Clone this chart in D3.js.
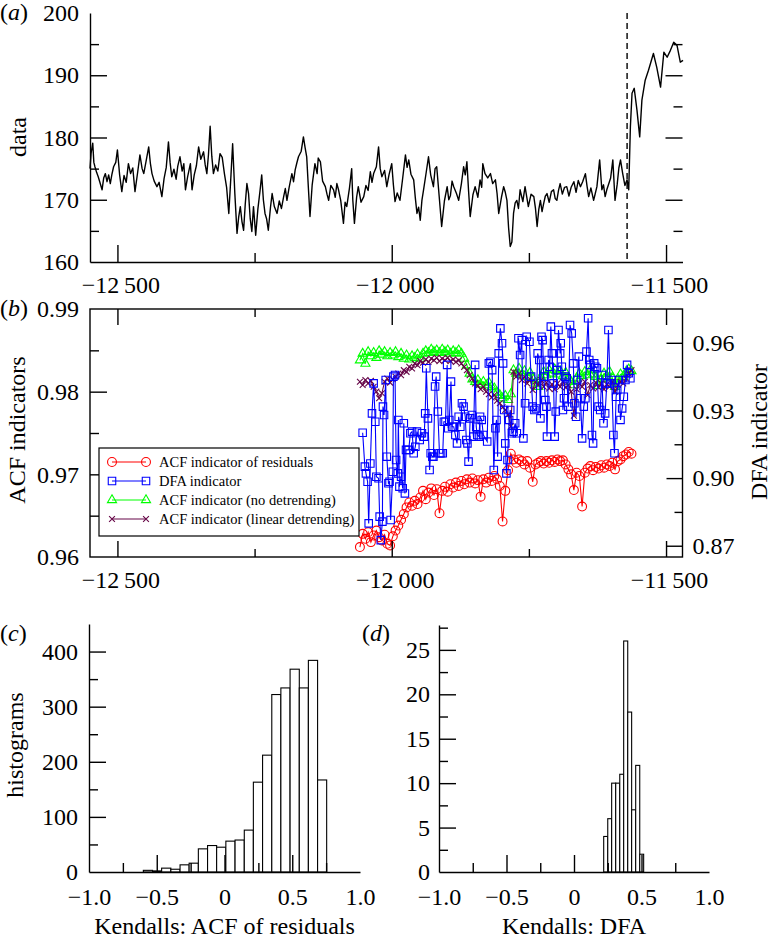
<!DOCTYPE html>
<html><head><meta charset="utf-8">
<script src="https://cdn.jsdelivr.net/npm/d3@7"></script>
<style>
body{margin:0;background:#fff;}
svg text{font-family:"Liberation Serif","Times New Roman",serif;fill:#000;}
</style></head><body>
<svg id="chart" width="772" height="939"></svg>
<script>
// ---------------- DATA ----------------
// panel (a): time series
const aYears = [-12550,-12548,-12545,-12543,-12541,-12538,-12535,-12532,-12528,-12525,-12522,-12519,-12516,-12513,-12510,-12507,-12503,-12500,-12496,-12492,-12488,-12484,-12480,-12476,-12472,-12468,-12463,-12459,-12455,-12452,-12448,-12443,-12440,-12437,-12433,-12428,-12424,-12419,-12415,-12411,-12407,-12404,-12401,-12397,-12393,-12390,-12386,-12382,-12379,-12376,-12372,-12367,-12364,-12360,-12356,-12352,-12348,-12343,-12340,-12337,-12334,-12331,-12328,-12325,-12321,-12317,-12313,-12309,-12305,-12301,-12297,-12293,-12290,-12286,-12282,-12279,-12276,-12273,-12270,-12267,-12264,-12261,-12258,-12255,-12252,-12248,-12244,-12240,-12237,-12234,-12231,-12228,-12225,-12221,-12218,-12214,-12209,-12205,-12201,-12197,-12194,-12191,-12187,-12182,-12179,-12176,-12173,-12170,-12165,-12161,-12158,-12155,-12152,-12149,-12145,-12140,-12136,-12134,-12130,-12126,-12121,-12118,-12115,-12111,-12106,-12103,-12100,-12097,-12093,-12088,-12085,-12082,-12077,-12073,-12071,-12068,-12064,-12061,-12056,-12051,-12047,-12043,-12039,-12036,-12033,-12028,-12024,-12021,-12018,-12013,-12009,-12005,-12000,-11997,-11994,-11990,-11985,-11980,-11975,-11972,-11969,-11965,-11960,-11957,-11954,-11951,-11948,-11945,-11942,-11937,-11933,-11929,-11924,-11921,-11918,-11913,-11909,-11904,-11899,-11896,-11893,-11890,-11887,-11882,-11878,-11873,-11869,-11866,-11863,-11860,-11857,-11852,-11848,-11843,-11839,-11836,-11834,-11830,-11825,-11820,-11816,-11811,-11808,-11805,-11800,-11796,-11793,-11790,-11787,-11784,-11781,-11778,-11775,-11772,-11769,-11766,-11761,-11757,-11754,-11751,-11746,-11741,-11738,-11735,-11732,-11729,-11726,-11723,-11720,-11717,-11713,-11709,-11705,-11702,-11699,-11696,-11693,-11689,-11685,-11681,-11677,-11673,-11668,-11664,-11660,-11656,-11652,-11647,-11644,-11641,-11637,-11632,-11629,-11626,-11621,-11617,-11614,-11611,-11608,-11605,-11601,-11597,-11593,-11589,-11586,-11583,-11579,-11575,-11571,-11568,-11565,-11562,-11558,-11553,-11548,-11544,-11538,-11532,-11523,-11517,-11510,-11504,-11498,-11492,-11486,-11480,-11474,-11469];
const aValues = [175.0,177.5,179.1,176.0,175.3,174.4,173.7,172.8,171.6,173.5,174.2,172.9,174.0,172.6,174.1,175.3,176.0,178.0,174.0,171.3,173.9,172.8,175.8,174.2,175.1,171.3,174.5,177.2,175.0,174.2,176.1,178.5,175.9,174.2,173.0,172.1,172.8,170.5,173.4,175.2,179.3,176.0,173.7,174.9,173.3,175.4,176.9,174.6,175.8,171.6,173.7,175.8,171.6,174.0,175.5,178.5,176.5,177.7,175.6,174.2,177.3,181.8,177.0,174.2,175.6,174.6,177.4,176.8,174.2,172.0,167.8,174.0,179.0,171.0,164.6,167.2,168.9,166.5,165.1,169.3,172.6,171.0,167.0,164.9,168.9,164.3,168.5,171.5,174.0,170.0,167.8,166.9,165.1,168.8,171.0,168.9,167.8,169.8,168.6,170.5,171.8,169.9,172.0,174.2,172.9,174.8,175.9,176.9,177.8,180.1,178.4,176.9,172.0,167.3,172.4,175.8,174.2,176.7,176.1,173.0,172.1,170.9,169.9,172.3,171.6,170.4,172.6,171.6,169.9,166.2,169.6,168.9,171.9,175.0,170.0,166.2,170.4,172.1,169.6,170.5,172.3,171.5,174.5,172.8,174.2,175.3,178.5,175.0,173.7,174.7,172.1,174.0,175.8,172.4,169.7,171.1,169.9,173.5,177.2,175.2,176.4,174.1,173.2,170.3,167.8,168.8,166.7,169.9,171.6,174.5,176.9,174.0,172.1,175.0,175.3,170.0,165.7,169.8,172.1,170.0,170.7,173.0,172.1,171.0,169.9,172.6,175.3,174.0,176.1,171.5,167.3,170.8,172.1,170.4,173.2,172.0,175.8,174.2,173.5,174.2,172.6,173.2,171.0,167.8,170.4,172.1,171.2,169.9,165.5,162.5,163.2,167.8,169.5,169.9,168.6,171.6,169.7,172.1,170.5,168.9,170.9,170.5,168.6,165.7,168.4,169.9,168.1,169.4,170.6,171.0,169.6,171.3,171.6,170.2,169.9,171.5,172.6,170.9,172.0,172.1,170.6,172.0,172.9,171.2,173.1,172.1,172.9,174.2,172.2,170.5,171.9,169.9,171.0,172.1,176.4,171.6,172.4,170.5,171.6,172.4,173.5,176.4,169.9,172.5,175.1,176.4,174.2,172.3,173.2,171.6,181.7,187.1,187.9,184.4,180.1,186.0,189.2,190.8,193.5,191.3,188.1,193.7,192.9,194.0,195.3,194.8,192.1,192.4];
const aDashYear = -11571;

// panel (b): indicators
const dfaYears = [-12053,-12049,-12047,-12044,-12042,-12039,-12036,-12033,-12030,-12028,-12024,-12022,-12020,-12017,-12016,-12014,-12011,-12009,-12006,-12004,-12002,-11998,-11997,-11994,-11992,-11989,-11988,-11986,-11983,-11980,-11978,-11976,-11974,-11969,-11966,-11963,-11960,-11957,-11954,-11949,-11945,-11941,-11939,-11937,-11934,-11931,-11929,-11926,-11924,-11921,-11919,-11916,-11913,-11910,-11907,-11905,-11902,-11899,-11897,-11895,-11892,-11890,-11887,-11884,-11881,-11878,-11875,-11872,-11869,-11866,-11864,-11862,-11860,-11857,-11854,-11851,-11848,-11846,-11844,-11841,-11839,-11836,-11833,-11826,-11823,-11820,-11817,-11814,-11811,-11809,-11807,-11805,-11802,-11799,-11797,-11795,-11793,-11791,-11789,-11786,-11784,-11781,-11778,-11775,-11772,-11769,-11766,-11763,-11760,-11757,-11754,-11749,-11746,-11743,-11740,-11737,-11734,-11731,-11729,-11727,-11725,-11723,-11720,-11718,-11717,-11714,-11712,-11710,-11708,-11705,-11703,-11701,-11699,-11696,-11693,-11692,-11690,-11688,-11686,-11684,-11681,-11678,-11675,-11672,-11669,-11667,-11664,-11662,-11659,-11656,-11653,-11650,-11647,-11645,-11642,-11640,-11638,-11635,-11633,-11631,-11629,-11626,-11623,-11620,-11617,-11614,-11611,-11608,-11605,-11602,-11599,-11596,-11594,-11591,-11589,-11586,-11583,-11580,-11577,-11574,-11571,-11568,-11565];
const dfaValues = [0.9201,0.9051,0.9021,0.8984,0.8799,0.9065,0.9287,0.9420,0.9250,0.9006,0.8999,0.8829,0.8725,0.8807,0.9317,0.9280,0.9435,0.9095,0.8977,0.8984,0.8814,0.9028,0.9450,0.9457,0.9080,0.9021,0.9258,0.8962,0.9006,0.8955,0.9243,0.8932,0.9125,0.9125,0.9199,0.9206,0.9110,0.9139,0.9206,0.9169,0.9199,0.9184,0.9287,0.9487,0.9265,0.9036,0.9110,0.9095,0.9095,0.9406,0.9450,0.9295,0.9110,0.9110,0.9110,0.9250,0.9250,0.9502,0.9221,0.9258,0.9428,0.9228,0.9228,0.9191,0.9154,0.9272,0.9228,0.9332,0.9317,0.9272,0.9169,0.9154,0.9073,0.9265,0.9280,0.9184,0.9502,0.9228,0.9191,0.9184,0.9272,0.9258,0.9191,0.9162,0.9509,0.9516,0.9479,0.9036,0.9221,0.9258,0.9095,0.9553,0.9664,0.9598,0.9509,0.9302,0.9154,0.9021,0.9080,0.9258,0.9302,0.9199,0.9206,0.9243,0.9199,0.9620,0.9546,0.9612,0.9176,0.9332,0.9627,0.9605,0.9450,0.9317,0.9302,0.9309,0.9553,0.9524,0.9265,0.9627,0.9612,0.9450,0.9346,0.9317,0.9184,0.9524,0.9494,0.9672,0.9553,0.9420,0.9184,0.9295,0.9479,0.9657,0.9553,0.9598,0.9494,0.9302,0.9354,0.9450,0.9443,0.9317,0.9679,0.9642,0.9509,0.9332,0.9272,0.9435,0.9539,0.9354,0.9176,0.9317,0.9354,0.9561,0.9709,0.9524,0.9502,0.9191,0.9154,0.9509,0.9494,0.9487,0.9317,0.9302,0.9457,0.9243,0.9287,0.9420,0.9657,0.9420,0.9435,0.9191,0.9110,0.9361,0.9391,0.9435,0.9258,0.9309,0.9361,0.9435,0.9502,0.9465,0.9443];

const acfYears = [-12058,-12053,-12048,-12043,-12038,-12033,-12028,-12023,-12018,-12013,-12008,-12003,-11998,-11993,-11988,-11983,-11978,-11973,-11968,-11963,-11958,-11953,-11948,-11943,-11938,-11933,-11928,-11923,-11918,-11913,-11908,-11903,-11898,-11893,-11888,-11883,-11878,-11873,-11868,-11863,-11858,-11853,-11848,-11843,-11838,-11833,-11828,-11823,-11818,-11813,-11808,-11803,-11798,-11793,-11788,-11783,-11778,-11773,-11768,-11763,-11758,-11753,-11748,-11743,-11738,-11733,-11728,-11723,-11718,-11713,-11708,-11703,-11698,-11693,-11688,-11683,-11678,-11673,-11668,-11663,-11658,-11653,-11648,-11643,-11638,-11633,-11628,-11623,-11618,-11613,-11608,-11603,-11598,-11593,-11588,-11583,-11578,-11573,-11568,-11563];
const acfResiduals = [0.9612,0.9628,0.9622,0.9630,0.9618,0.9626,0.9632,0.9624,0.9620,0.9627,0.9616,0.9614,0.9625,0.9632,0.9638,0.9645,0.9652,0.9660,0.9666,0.9662,0.9668,0.9664,0.9672,0.9680,0.9670,0.9678,0.9683,0.9675,0.9682,0.9653,0.9680,0.9685,0.9679,0.9688,0.9684,0.9690,0.9686,0.9692,0.9688,0.9694,0.9690,0.9695,0.9689,0.9693,0.9673,0.9694,0.9690,0.9696,0.9692,0.9698,0.9694,0.9686,0.9643,0.9680,0.9705,0.9725,0.9718,0.9714,0.9718,0.9716,0.9712,0.9716,0.9708,0.9691,0.9712,0.9714,0.9716,0.9713,0.9716,0.9714,0.9717,0.9715,0.9718,0.9716,0.9717,0.9712,0.9706,0.9700,0.9681,0.9702,0.9698,0.9661,0.9702,0.9707,0.9710,0.9705,0.9709,0.9707,0.9711,0.9708,0.9712,0.9710,0.9714,0.9706,0.9716,0.9718,0.9722,0.9724,0.9727,0.9725];
const acfNoDetrend = [0.9838,0.9846,0.9834,0.9848,0.9843,0.9847,0.9841,0.9849,0.9845,0.9848,0.9843,0.9847,0.9844,0.9848,0.9842,0.9846,0.9840,0.9844,0.9839,0.9843,0.9841,0.9845,0.9840,0.9846,0.9849,0.9847,0.9851,0.9848,0.9850,0.9847,0.9851,0.9848,0.9850,0.9846,0.9849,0.9847,0.9850,0.9846,0.9840,0.9832,0.9822,0.9815,0.9812,0.9814,0.9809,0.9812,0.9808,0.9811,0.9806,0.9804,0.9799,0.9796,0.9792,0.9795,0.9790,0.9797,0.9826,0.9822,0.9828,0.9820,0.9825,0.9818,0.9823,0.9816,0.9810,0.9806,0.9818,0.9824,0.9820,0.9826,0.9822,0.9827,0.9821,0.9825,0.9819,0.9823,0.9817,0.9812,0.9808,0.9816,0.9822,0.9819,0.9824,0.9820,0.9826,0.9821,0.9818,0.9807,0.9815,0.9822,0.9819,0.9824,0.9817,0.9806,0.9815,0.9821,0.9818,0.9824,0.9827,0.9825];
const acfLinDetrend = [0.9812,0.9808,0.9814,0.9810,0.9813,0.9806,0.9800,0.9792,0.9798,0.9812,0.9816,0.9811,0.9815,0.9818,0.9822,0.9820,0.9826,0.9824,0.9830,0.9828,0.9834,0.9832,0.9837,0.9835,0.9839,0.9836,0.9840,0.9838,0.9841,0.9837,0.9840,0.9838,0.9841,0.9837,0.9839,0.9836,0.9838,0.9834,0.9830,0.9826,0.9820,0.9816,0.9810,0.9807,0.9803,0.9806,0.9800,0.9797,0.9793,0.9796,0.9789,0.9786,0.9781,0.9778,0.9772,0.9758,0.9824,0.9818,0.9822,0.9814,0.9818,0.9810,0.9815,0.9802,0.9812,0.9808,0.9814,0.9806,0.9811,0.9804,0.9809,0.9803,0.9810,0.9806,0.9812,0.9805,0.9808,0.9800,0.9771,0.9803,0.9810,0.9806,0.9812,0.9796,0.9808,0.9804,0.9811,0.9805,0.9810,0.9803,0.9809,0.9806,0.9812,0.9800,0.9808,0.9812,0.9810,0.9816,0.9822,0.9826];
const legendLabels = ["ACF indicator of residuals","DFA indicator","ACF indicator (no detrending)","ACF indicator (linear detrending)"];

// panel (c) and (d): histograms
const cBinEdges = [-0.599,-0.531,-0.464,-0.396,-0.328,-0.261,-0.193,-0.125,-0.058,0.010,0.078,0.146,0.213,0.281,0.349,0.416,0.484,0.552,0.619,0.687,0.754];
const cCounts = [3,2,7,5,13,16,42,48,45,56,58,76,163,212,322,334,368,334,384,167];
const dBinEdges = [0.220,0.250,0.279,0.309,0.339,0.368,0.398,0.427,0.457,0.487,0.516];
const dCounts = [4,6,10,10,11,26,18,7,12,2];

// ticks
const yearMajor = [-12500,-12000,-11500];
const yearMinor = [-12250,-11750];
const dataMajor = [160,170,180,190,200];
const dataMinor = [165,175,185,195];
const acfMajor = [0.96,0.97,0.98,0.99];
const acfMinor = [0.965,0.975,0.985];
const dfaMajor = [0.87,0.90,0.93,0.96];
const dfaMinor = [0.885,0.915,0.945];
const histXMajor = [-1,-0.5,0,0.5,1];
const histXMinor = [-0.75,-0.25,0.25,0.75];
const cMajor = [0,100,200,300,400];
const cMinor = [50,150,250,350];
const dMajor = [0,5,10,15,20,25];
const dMinor = [2.5,7.5,12.5,17.5,22.5,27.5];

// ---------------- DRAW ----------------
const svg = d3.select("#chart");
const FONT = "Liberation Serif, Times New Roman, serif";
const SW = 1.4;

const fmtYear = d => (d < 0 ? "\u2212" : "") + String(Math.abs(d)).replace(/(\d+)(\d{3})$/, "$1\u2009$2");
const fmt2 = d => d.toFixed(2);
const fmtH = d => d === 0 ? "0" : (d < 0 ? "\u2212" : "") + Math.abs(d).toFixed(1);
const fmtInt = d => String(d);

function drawAxis(gen, scale, vals, size, fmt, pad, transform, opts = {}) {
  const a = gen(scale).tickValues(vals).tickSize(size).tickSizeOuter(0).tickPadding(pad || 0)
    .tickFormat(fmt || (() => ""));
  const g = svg.append("g").attr("transform", transform).call(a)
    .attr("font-size", 24).attr("font-family", FONT);
  g.selectAll("line").attr("stroke", "#000").attr("stroke-width", SW);
  g.select(".domain").attr("stroke", "#000").attr("stroke-width", SW);
  if (!opts.domain) g.select(".domain").remove();
  if (opts.noLine) g.selectAll(".tick").filter(d => opts.noLine.includes(d)).select("line").remove();
  if (opts.dx) g.selectAll("text").attr("dx", opts.dx);
  g.selectAll("text").attr("fill", "#000");
  return g;
}

// ===== Panel (a) =====
const xA = d3.scaleLinear().domain([-12550, -11470]).range([90, 682.5]);
const yA = d3.scaleLinear().domain([160, 200]).range([262, 13]);

svg.append("path")
  .datum(aYears.map((y, i) => [y, aValues[i]]))
  .attr("fill", "none").attr("stroke", "#000").attr("stroke-width", 1.4)
  .attr("stroke-linejoin", "round")
  .attr("d", d3.line().x(d => xA(d[0])).y(d => yA(d[1])));

svg.append("line")
  .attr("x1", xA(aDashYear)).attr("x2", xA(aDashYear))
  .attr("y1", yA(200)).attr("y2", yA(160))
  .attr("stroke", "#000").attr("stroke-width", 1.4).attr("stroke-dasharray", "6,4");

drawAxis(d3.axisBottom, xA, yearMajor, -17, fmtYear, 14, "translate(0,262)", {domain: true, dx: 3});
drawAxis(d3.axisBottom, xA, yearMinor, -9, null, 0, "translate(0,262)");
drawAxis(d3.axisLeft, yA, dataMajor, -17, fmtInt, 11, "translate(90,0)", {domain: true, noLine: [160, 200]});
drawAxis(d3.axisLeft, yA, dataMinor, -9, null, 0, "translate(90,0)");
drawAxis(d3.axisRight, yA, [170, 180, 190], -17, null, 0, "translate(682.5,0)");
drawAxis(d3.axisRight, yA, dataMinor, -9, null, 0, "translate(682.5,0)");

// ===== Panel (b) =====
const xB = d3.scaleLinear().domain([-12550, -11470]).range([90, 682.5]);
const yL = d3.scaleLinear().domain([0.96, 0.99]).range([557, 309]);
const yR = d3.scaleLinear().domain([0.865, 0.975]).range([557, 309]);

const symX = { draw(ctx, size) { const r = Math.sqrt(size) / 2; ctx.moveTo(-r, -r); ctx.lineTo(r, r); ctx.moveTo(-r, r); ctx.lineTo(r, -r); } };
const series = [
  { name: legendLabels[2], years: acfYears, vals: acfNoDetrend, y: yL, color: "#00ff00", sym: d3.symbolTriangle, size: 36 },
  { name: legendLabels[3], years: acfYears, vals: acfLinDetrend, y: yL, color: "#670748", sym: symX, size: 34 },
  { name: legendLabels[0], years: acfYears, vals: acfResiduals, y: yL, color: "#ff0000", sym: d3.symbolCircle, size: 62 },
  { name: legendLabels[1], years: dfaYears, vals: dfaValues, y: yR, color: "#0000ff", sym: d3.symbolSquare, size: 56 }
];

const plotB = svg.append("g");
series.forEach(s => {
  const pts = s.years.map((yr, i) => [yr, s.vals[i]]);
  plotB.append("path").datum(pts)
    .attr("fill", "none").attr("stroke", s.color).attr("stroke-width", 1.1)
    .attr("d", d3.line().x(d => xB(d[0])).y(d => s.y(d[1])));
  plotB.append("g").selectAll("path").data(pts).join("path")
    .attr("transform", d => `translate(${xB(d[0])},${s.y(d[1])})`)
    .attr("d", d3.symbol().type(s.sym).size(s.size))
    .attr("fill", "none").attr("stroke", s.color).attr("stroke-width", 1.1);
});

// frame
svg.append("rect").attr("x", 90).attr("y", 309).attr("width", 592.5).attr("height", 248)
  .attr("fill", "none").attr("stroke", "#000").attr("stroke-width", SW);

drawAxis(d3.axisBottom, xB, yearMajor, -16, fmtYear, 14, "translate(0,557)", {dx: 3});
drawAxis(d3.axisBottom, xB, yearMinor, -8, null, 0, "translate(0,557)");
drawAxis(d3.axisTop, xB, yearMajor, -16, null, 0, "translate(0,309)");
drawAxis(d3.axisTop, xB, yearMinor, -8, null, 0, "translate(0,309)");
drawAxis(d3.axisLeft, yL, acfMajor, -17, fmt2, 11, "translate(90,0)", {noLine: [0.96, 0.99]});
drawAxis(d3.axisLeft, yL, acfMinor, -9, null, 0, "translate(90,0)");
drawAxis(d3.axisRight, yR, dfaMajor, -16, fmt2, 10, "translate(682.5,0)");
drawAxis(d3.axisRight, yR, dfaMinor, -8, null, 0, "translate(682.5,0)");

// legend
const leg = svg.append("g");
leg.append("rect").attr("x", 99).attr("y", 448).attr("width", 260).attr("height", 88)
  .attr("fill", "#fff").attr("stroke", "#000").attr("stroke-width", 1.2);
const legOrder = [series[2], series[3], series[0], series[1]];
legOrder.forEach((s, i) => {
  const yy = 462 + i * 19;
  leg.append("line").attr("x1", 112).attr("x2", 146).attr("y1", yy).attr("y2", yy)
    .attr("stroke", s.color).attr("stroke-width", 1.1);
  [112, 146].forEach(xx => leg.append("path")
    .attr("transform", `translate(${xx},${yy})`)
    .attr("d", d3.symbol().type(s.sym).size(s.size))
    .attr("fill", "none").attr("stroke", s.color).attr("stroke-width", 1.1));
  leg.append("text").attr("x", 159).attr("y", yy + 5).attr("font-size", 14.5).text(s.name);
});

// ===== Panel (c) =====
const xC = d3.scaleLinear().domain([-1, 1]).range([89, 360]);
const yC = d3.scaleLinear().domain([0, 450]).range([872, 624]);
svg.append("g").selectAll("rect").data(cCounts).join("rect")
  .attr("x", (d, i) => xC(cBinEdges[i])).attr("width", (d, i) => xC(cBinEdges[i + 1]) - xC(cBinEdges[i]))
  .attr("y", d => yC(d)).attr("height", d => yC(0) - yC(d))
  .attr("fill", "#fff").attr("stroke", "#000").attr("stroke-width", 1.1);
drawAxis(d3.axisBottom, xC, histXMajor, -17, fmtH, 16, "translate(0,872)", {domain: true, noLine: [-1, 1]});
drawAxis(d3.axisBottom, xC, histXMinor, -9, null, 0, "translate(0,872)");
drawAxis(d3.axisLeft, yC, cMajor, -17, fmtInt, 11, "translate(89,0)", {domain: true, noLine: [0]});
drawAxis(d3.axisLeft, yC, cMinor, -9, null, 0, "translate(89,0)");

// ===== Panel (d) =====
const xD = d3.scaleLinear().domain([-1, 1]).range([439, 709]);
const yD = d3.scaleLinear().domain([0, 27.8]).range([872, 625]);
svg.append("g").selectAll("rect").data(dCounts).join("rect")
  .attr("x", (d, i) => xD(dBinEdges[i])).attr("width", (d, i) => xD(dBinEdges[i + 1]) - xD(dBinEdges[i]))
  .attr("y", d => yD(d)).attr("height", d => yD(0) - yD(d))
  .attr("fill", "#fff").attr("stroke", "#000").attr("stroke-width", 1.1);
drawAxis(d3.axisBottom, xD, histXMajor, -17, fmtH, 16, "translate(0,872)", {domain: true, noLine: [-1, 1]});
drawAxis(d3.axisBottom, xD, histXMinor, -9, null, 0, "translate(0,872)");
drawAxis(d3.axisLeft, yD, dMajor, -17, fmtInt, 9, "translate(439,0)", {domain: true, noLine: [0]});
drawAxis(d3.axisLeft, yD, dMinor, -9, null, 0, "translate(439,0)");

// ===== Labels =====
function panelLabel(x, y, letter) {
  const t = svg.append("text").attr("x", x).attr("y", y).attr("font-size", 24);
  t.append("tspan").text("(");
  t.append("tspan").attr("font-style", "italic").text(letter);
  t.append("tspan").text(")");
}
panelLabel(0, 20, "a");
panelLabel(0, 316, "b");
panelLabel(0, 641, "c");
panelLabel(362, 641, "d");

function vLabel(x, y, txt) {
  svg.append("text").attr("transform", `translate(${x},${y}) rotate(-90)`)
    .attr("text-anchor", "middle").attr("font-size", 24).text(txt);
}
vLabel(26, 137, "data");
vLabel(25, 430, "ACF indicators");
vLabel(767, 432, "DFA indicator");
vLabel(23, 745, "histograms");

svg.append("text").attr("x", xC(0)).attr("y", 934).attr("text-anchor", "middle")
  .attr("font-size", 24).text("Kendalls: ACF of residuals");
svg.append("text").attr("x", xD(0)).attr("y", 934).attr("text-anchor", "middle")
  .attr("font-size", 24).text("Kendalls: DFA");
</script>
</body></html>
